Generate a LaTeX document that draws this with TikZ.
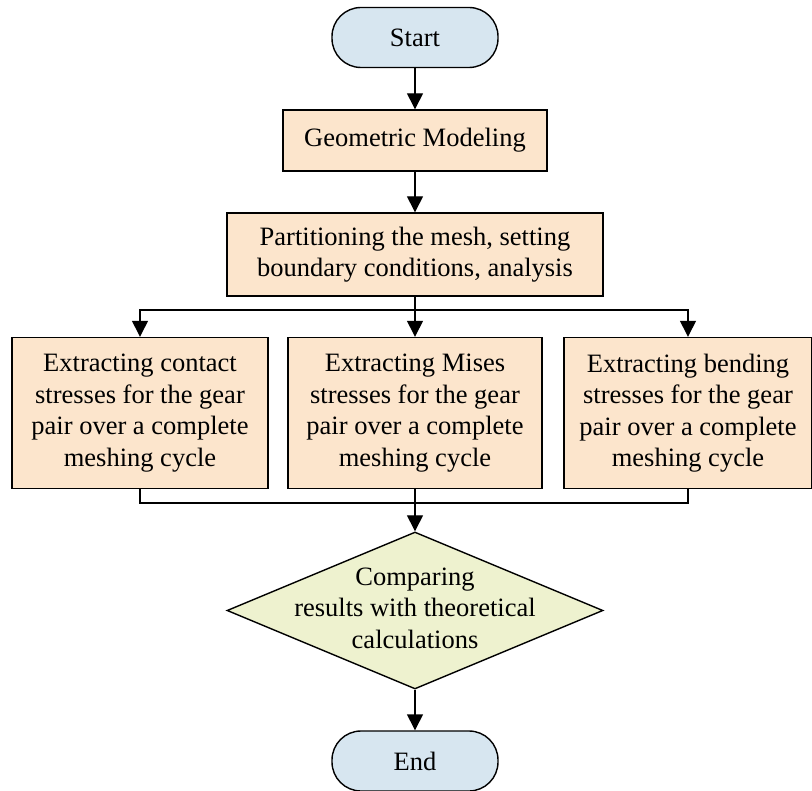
\documentclass[tikz,border=0pt]{standalone}
\usepackage{fontspec}
\setmainfont{Liberation Serif}
\usetikzlibrary{shapes.geometric,arrows.meta}
\definecolor{termblue}{RGB}{215,230,240}
\definecolor{procpeach}{RGB}{252,229,204}
\definecolor{decgreen}{RGB}{238,242,207}
\begin{document}
\begin{tikzpicture}[x=1pt,y=1pt,
  every node/.style={font=\fontsize{26.5}{31.5}\selectfont, align=center},
  term/.style={draw, line width=1.4pt, fill=termblue, rounded corners=29pt, minimum width=166pt, minimum height=60pt, inner sep=0pt},
  proc/.style={draw, line width=1.4pt, fill=procpeach, inner sep=0pt},
  dec/.style={draw, line width=1.4pt, fill=decgreen, diamond, minimum width=376pt, minimum height=157pt, inner sep=0pt},
  arr/.style={line width=1.4pt, -{Triangle[length=16pt,width=16pt]}},
  ln/.style={line width=1.4pt}]
\useasboundingbox (0,0) rectangle (812,-791);
\node[term] (start) at (415,-37.5) {Start};
\node[proc, minimum width=264pt, minimum height=61pt] (geo) at (415,-140.5) {Geometric Modeling};
\node[proc, minimum width=376pt, minimum height=83pt] (part) at (415,-254.5) {Partitioning the mesh, setting\\boundary conditions, analysis};
\node[proc, minimum width=256pt, minimum height=151pt] (c1) at (140,-413) {Extracting contact\\stresses for the gear\\pair over a complete\\meshing cycle};
\node[proc, minimum width=254pt, minimum height=151pt] (c2) at (415,-413) {Extracting Mises\\stresses for the gear\\pair over a complete\\meshing cycle};
\node[proc, minimum width=248pt, minimum height=151pt] (c3) at (688,-413) {Extracting bending\\stresses for the gear\\pair over a complete\\meshing cycle};
\node[dec] (cmp) at (415,-610.5) {};
\node (cmptext) at (415,-608) {Comparing\\results with theoretical\\calculations};
\node[term] (end) at (415,-761) {End};
\draw[arr] (start) -- (geo);
\draw[arr] (geo) -- (part);
\draw[ln] (part.south) -- (415,-310) coordinate (br);
\draw[arr] (br) -| (c1.north);
\draw[arr] (br) -| (c3.north);
\draw[arr] (br) -- (c2.north);
\draw[ln] (c1.south) |- (415,-503) coordinate (mg);
\draw[ln] (c3.south) |- (mg);
\draw[ln] (c2.south) -- (mg);
\draw[arr] (mg) -- (cmp.north);
\draw[arr] (cmp.south) -- (end.north);
\end{tikzpicture}
\end{document}
